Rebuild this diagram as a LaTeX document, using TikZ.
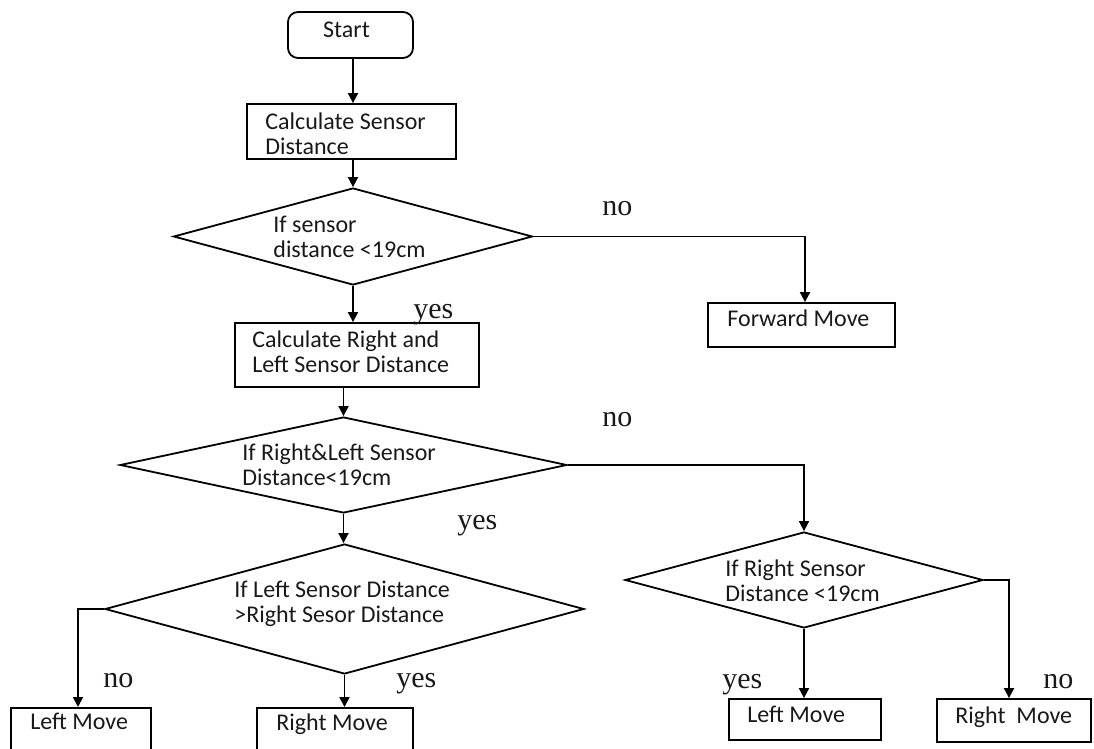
\documentclass[tikz,border=0pt]{standalone}
\usepackage{fontspec}
\setmainfont{Carlito}
\newfontfamily\lblfont{Liberation Serif}
\usetikzlibrary{arrows.meta,shapes.geometric,calc}
\begin{document}
\begin{tikzpicture}[x=0.5pt,y=-0.5pt,
  frame/.style={draw=black, line width=0.9pt, inner sep=0pt},
  boxframe/.style={frame, rectangle},
  startframe/.style={frame, rectangle, rounded corners=5pt},
  decframe/.style={frame, diamond},
  txt/.style={font=\fontsize{12}{12.5}\selectfont, align=left, inner sep=0pt, anchor=west, text=black!90},
  lbl/.style={font=\lblfont\fontsize{15}{15}\selectfont, inner sep=0pt, anchor=base west, text=black!90},
  arr/.style={draw=black, line width=0.9pt, -{Triangle[width=5pt,length=5pt]}},
  link/.style={draw=black, line width=0.9pt},
]
\useasboundingbox (0,0) rectangle (1094,749);
\clip (0,0) rectangle (1094,749);

% frames
\node[startframe, minimum width=62.5pt, minimum height=23pt] (start) at (350.5,35) {};
\node[boxframe, minimum width=104.5pt, minimum height=27.5pt] (calc) at (351.5,131.5) {};
\node[decframe, minimum width=179.5pt, minimum height=48.5pt] (dia1) at (353,236.5) {};
\node[boxframe, minimum width=93.5pt, minimum height=22pt] (fwd) at (801.5,325) {};
\node[boxframe, minimum width=122pt, minimum height=32pt] (calc2) at (357,355) {};
\node[decframe, minimum width=223.5pt, minimum height=48pt] (dia2) at (343.5,465) {};
\node[decframe, minimum width=239.5pt, minimum height=65pt] (dia3) at (344.5,609) {};
\node[decframe, minimum width=179pt, minimum height=48pt] (dia4) at (804,580) {};
\node[boxframe, minimum width=70pt, minimum height=30pt, anchor=north] (lm1) at (81,707) {};
\node[boxframe, minimum width=78pt, minimum height=30pt, anchor=north] (rm1) at (335,707) {};
\node[boxframe, minimum width=76pt, minimum height=20.5pt] (lm2) at (805,719.5) {};
\node[boxframe, minimum width=77pt, minimum height=21.5pt] (rm2) at (1014,720.5) {};

% texts
\node[txt, anchor=center] (startt) at (346.5,30) {Start};
\node[txt] (calct) at (265,134) {Calculate Sensor\\Distance};
\node[txt] (dia1t) at (273,237) {If sensor\\distance <19cm};
\node[txt] (fwdt) at (727,318.5) {Forward Move};
\node[txt] (calc2t) at (252,351.5) {Calculate Right and\\Left Sensor Distance};
\node[txt] (dia2t) at (242,465) {If Right\&Left Sensor\\Distance<19cm};
\node[txt] (dia3t) at (234,604) {If Left Sensor Distance\\>Right Sesor Distance};
\node[txt] (dia4t) at (725,580.5) {If Right Sensor\\Distance <19cm};
\node[txt] (lm1t) at (30,721.5) {Left Move};
\node[txt] (rm1t) at (276,724) {Right Move};
\node[txt] (lm2t) at (747,714.5) {Left Move};
\node[txt] (rm2t) at (955,717) {Right\ \ Move};

% branch labels
\node[lbl] (no1) at (602,216) {no};
\node[lbl] (yes1) at (413,319) {yes};
\node[lbl] (no2) at (602,426) {no};
\node[lbl] (yes2) at (457,529) {yes};
\node[lbl] (no3) at (103,687) {no};
\node[lbl] (yes3) at (396,687) {yes};
\node[lbl] (yes4) at (722,688) {yes};
\node[lbl] (no4) at (1043,688) {no};

% connectors
\draw[arr] (start.south -| dia1.north) -- (calc.north -| dia1.north);
\draw[arr] (calc.south -| dia1.north) -- (dia1.north);
\draw[arr] (dia1.east) -| ([xshift=1.75pt]fwd.north);
\draw[arr] (dia1.south) -- (dia1.south |- calc2.north);
\draw[arr] (calc2.south -| dia2.north) -- (dia2.north);
\draw[arr] (dia2.east) -| (dia4.north);
\draw[arr] (dia2.south) -- (dia2.south |- dia3.north);
\draw[arr] (dia3.west) -| ([xshift=-1.5pt]lm1.north);
\draw[arr] (dia3.south) -- (dia3.south |- rm1.north);
\draw[arr] (dia4.south) -- (dia4.south |- lm2.north);
\draw[arr] (dia4.east) -| ([xshift=-2.5pt]rm2.north);
\end{tikzpicture}
\end{document}
